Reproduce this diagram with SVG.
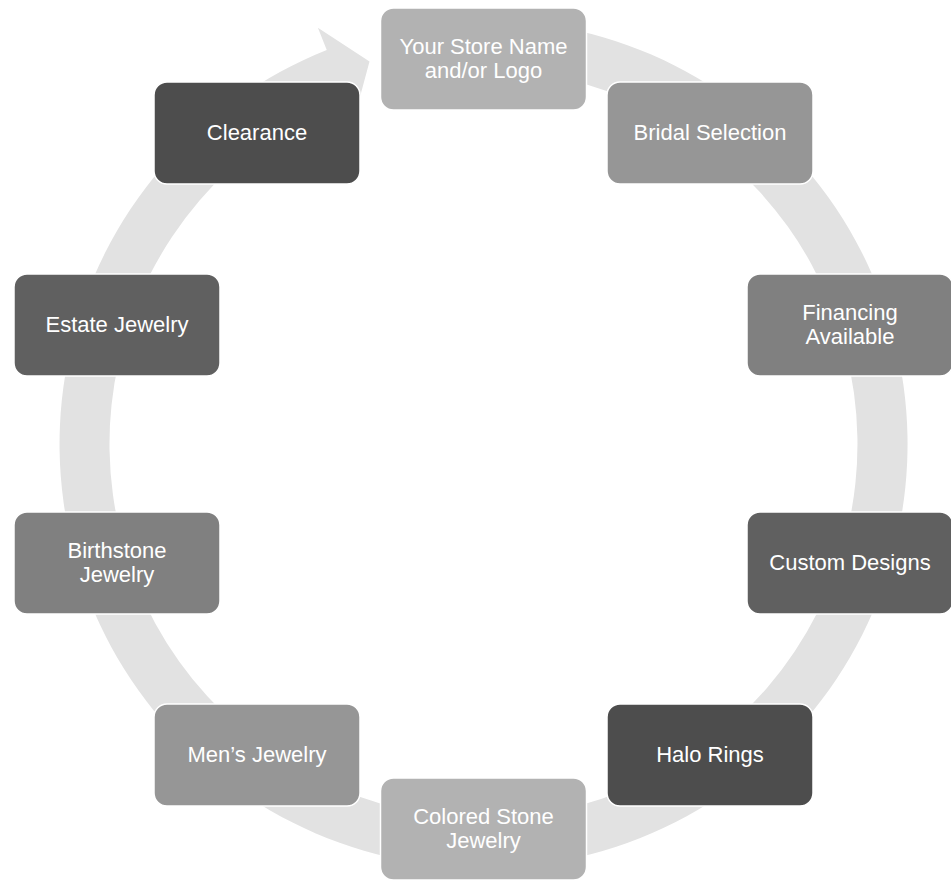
<svg xmlns="http://www.w3.org/2000/svg" width="951" height="880" viewBox="0 0 951 880">
  <style>
    .box { stroke: #ffffff; stroke-width: 1.5; }
    .lbl { font-family: "Liberation Sans", Arial, sans-serif; font-size: 22px; fill: #ffffff; text-anchor: middle; }
    .ring { fill: #e2e2e2; }
  </style>
  <rect width="951" height="880" fill="#ffffff"/>
  <g id="connectors">
    <path class="ring" d="M 527.82 22.32 A 424 424 0 1 1 326.75 50.06 L 317.9 27.8 L 369.5 61.6 L 354.1 118.8 L 345.2 96.5 A 374 374 0 1 0 522.59 72.05 Z"/>
  </g>
  <g id="node-store">
    <rect class="box" x="380.5" y="8" width="206" height="102" rx="13" fill="#b2b2b2"/>
    <text class="lbl" x="483.5" y="54">Your Store Name</text>
    <text class="lbl" x="483.5" y="78">and/or Logo</text>
  </g>
  <g id="node-bridal">
    <rect class="box" x="607" y="82" width="206" height="102" rx="13" fill="#969696"/>
    <text class="lbl" x="710" y="140">Bridal Selection</text>
  </g>
  <g id="node-financing">
    <rect class="box" x="747" y="274" width="206" height="102" rx="13" fill="#808080"/>
    <text class="lbl" x="850" y="320">Financing</text>
    <text class="lbl" x="850" y="344">Available</text>
  </g>
  <g id="node-custom">
    <rect class="box" x="747" y="512" width="206" height="102" rx="13" fill="#606060"/>
    <text class="lbl" x="850" y="570">Custom Designs</text>
  </g>
  <g id="node-halo">
    <rect class="box" x="607" y="704" width="206" height="102" rx="13" fill="#4d4d4d"/>
    <text class="lbl" x="710" y="762">Halo Rings</text>
  </g>
  <g id="node-colored">
    <rect class="box" x="380.5" y="778" width="206" height="102" rx="13" fill="#b2b2b2"/>
    <text class="lbl" x="483.5" y="824">Colored Stone</text>
    <text class="lbl" x="483.5" y="848">Jewelry</text>
  </g>
  <g id="node-mens">
    <rect class="box" x="154" y="704" width="206" height="102" rx="13" fill="#969696"/>
    <text class="lbl" x="257" y="762">Men’s Jewelry</text>
  </g>
  <g id="node-birthstone">
    <rect class="box" x="14" y="512" width="206" height="102" rx="13" fill="#808080"/>
    <text class="lbl" x="117" y="558">Birthstone</text>
    <text class="lbl" x="117" y="582">Jewelry</text>
  </g>
  <g id="node-estate">
    <rect class="box" x="14" y="274" width="206" height="102" rx="13" fill="#606060"/>
    <text class="lbl" x="117" y="332">Estate Jewelry</text>
  </g>
  <g id="node-clearance">
    <rect class="box" x="154" y="82" width="206" height="102" rx="13" fill="#4d4d4d"/>
    <text class="lbl" x="257" y="140">Clearance</text>
  </g>
</svg>
